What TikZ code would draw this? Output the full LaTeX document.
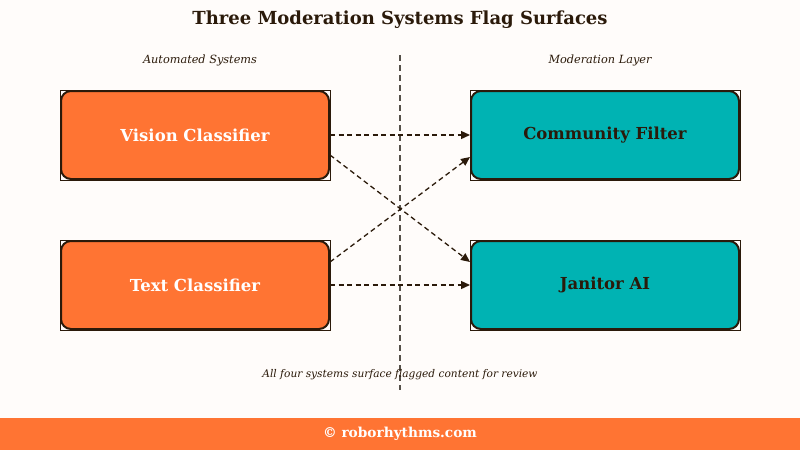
\documentclass[tikz,border=0pt]{standalone}
\usepackage{fontspec}
\setmainfont{DejaVu Serif}
\usetikzlibrary{arrows.meta}
\definecolor{bg}{HTML}{FFFCFA}
\definecolor{orng}{HTML}{FF7433}
\definecolor{teal2}{HTML}{00B3B3}
\definecolor{ink}{HTML}{2B1A0A}
\definecolor{vline}{HTML}{555049}
\tikzset{
  sharpbox/.style={draw=ink, line width=1pt, minimum width=270pt, minimum height=90pt, inner sep=0pt},
  srcbox/.style={draw=ink, line width=2pt, fill=orng, rounded corners=10pt, minimum width=268pt, minimum height=88pt, text=white, font=\bfseries\fontsize{16.5}{19}\selectfont},
  dstbox/.style={draw=ink, line width=2pt, fill=teal2, rounded corners=10pt, minimum width=268pt, minimum height=88pt, text=ink, font=\bfseries\fontsize{16.5}{19}\selectfont},
  flow/.style={draw=ink, line width=1.3pt, dash pattern=on 5pt off 3.5pt, -{Triangle[length=9pt,width=8pt]}},
  lab/.style={text=ink, font=\itshape\fontsize{11.3}{13}\selectfont},
}
\begin{document}
\begin{tikzpicture}[x=1pt,y=-1pt]
\fill[bg] (0,0) rectangle (800,450);
\useasboundingbox (0,0) rectangle (800,450);
\fill[orng] (0,418) rectangle (800,450);
\node[text=white, font=\bfseries\fontsize{13.7}{16}\selectfont] (foot) at (400,434) {© roborhythms.com};
\node[text=ink, font=\bfseries\fontsize{18}{21}\selectfont] (title) at (400,20) {Three Moderation Systems Flag Surfaces};
\node[lab] (la) at (200,60) {Automated Systems};
\node[lab] (lb) at (600,60) {Moderation Layer};
\coordinate (vt) at (400,55);
\coordinate (vb) at (400,390);
\draw[vline, line width=1.6pt, dash pattern=on 6pt off 4pt] (vt) -- (vb);
\node[lab, font=\itshape\fontsize{10.6}{13}\selectfont] (cap) at (400,375) {All four systems surface flagged content for review};
\node[sharpbox] (s1) at (195,135) {};
\node[sharpbox] (s2) at (195,285) {};
\node[sharpbox] (s3) at (605,135) {};
\node[sharpbox] (s4) at (605,285) {};
\node[srcbox] (vis) at (195,135) {Vision Classifier};
\node[srcbox] (txt) at (195,285) {Text Classifier};
\node[dstbox] (com) at (605,135) {Community Filter};
\node[dstbox] (jan) at (605,285) {Janitor AI};
\draw[flow] (vis.east) -- (com.west);
\draw[flow] ([yshift=-20pt]vis.east) -- ([yshift=23pt]jan.west);
\draw[flow] ([yshift=23pt]txt.east) -- ([yshift=-22pt]com.west);
\draw[flow] (txt.east) -- (jan.west);
\end{tikzpicture}
\end{document}
